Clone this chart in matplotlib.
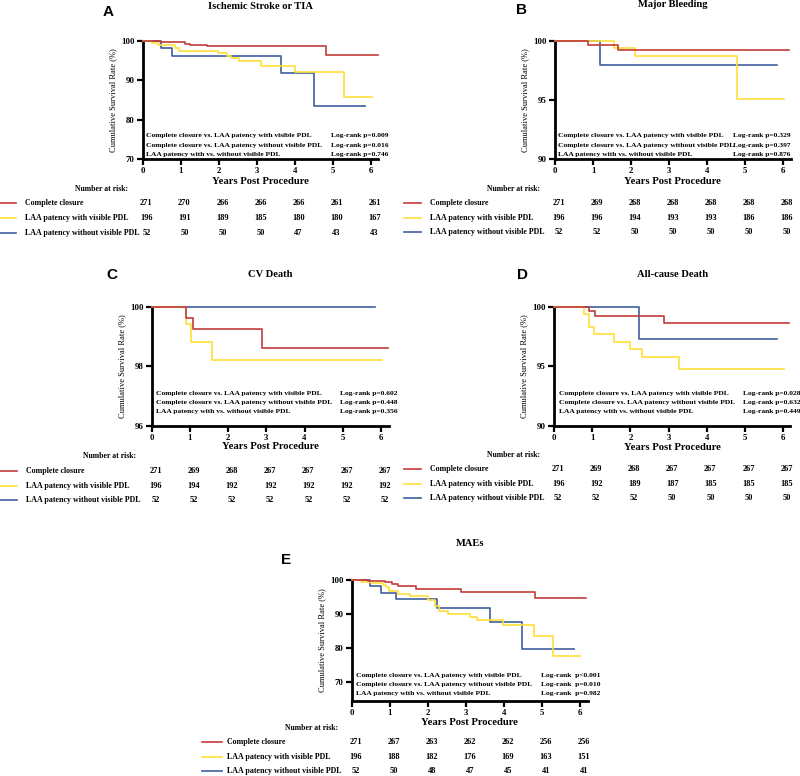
import matplotlib
matplotlib.use('Agg')
import matplotlib.pyplot as plt
from matplotlib.transforms import blended_transform_factory
from matplotlib.lines import Line2D

# ---------------- data ----------------
groups = ["Complete closure", "LAA patency with visible PDL", "LAA patency without visible PDL"]
years = [0, 1, 2, 3, 4, 5, 6]
comparisons = ["Complete closure vs. LAA patency with visible PDL",
               "Complete closure vs. LAA patency without visible PDL",
               "LAA patency with vs. without visible PDL"]
comparisons_D = ["Compplete closure vs. LAA patency with visible PDL",
                 "Complete closure vs. LAA patency without visible PDL",
                 "LAA patency with vs. without visible PDL"]

# Panel A: Ischemic Stroke or TIA
A_cc_t = [0, 0.45, 1.1, 1.25, 1.7, 4.83, 6.18]
A_cc_s = [100, 99.6, 99.2, 98.9, 98.6, 96.4, 96.4]
A_vis_t = [0, 0.25, 0.4, 0.84, 0.96, 1.98, 2.23, 2.32, 2.53, 3.12, 4.0, 5.29, 6.04]
A_vis_s = [100, 99.5, 99.0, 98.1, 97.4, 96.8, 96.1, 95.5, 94.8, 93.6, 92.1, 85.6, 85.6]
A_nov_t = [0, 0.47, 0.77, 3.63, 4.5, 5.84]
A_nov_s = [100, 98.1, 96.1, 91.8, 83.5, 83.5]
A_p = ["Log-rank p=0.009", "Log-rank p=0.016", "Log-rank p=0.746"]
A_risk_cc = [271, 270, 266, 266, 266, 261, 261]
A_risk_vis = [196, 191, 189, 185, 180, 180, 167]
A_risk_nov = [52, 50, 50, 50, 47, 43, 43]

# Panel B: Major Bleeding
B_cc_t = [0, 0.88, 1.67, 6.17]
B_cc_s = [100, 99.6, 99.2, 99.2]
B_vis_t = [0, 1.55, 2.1, 4.78, 6.03]
B_vis_s = [100, 99.35, 98.7, 95.05, 95.05]
B_nov_t = [0, 1.18, 5.83]
B_nov_s = [100, 97.95, 97.95]
B_p = ["Log-rank p=0.329", "Log-rank p=0.397", "Log-rank p=0.876"]
B_risk_cc = [271, 269, 268, 268, 268, 268, 268]
B_risk_vis = [196, 196, 194, 193, 193, 186, 186]
B_risk_nov = [52, 52, 50, 50, 50, 50, 50]

# Panel C: CV Death
C_cc_t = [0, 0.89, 1.07, 2.9, 6.18]
C_cc_s = [100, 99.62, 99.24, 98.62, 98.62]
C_vis_t = [0, 0.89, 1.04, 1.57, 6.04]
C_vis_s = [100, 99.41, 98.83, 98.22, 98.22]
C_nov_t = [0, 5.85]
C_nov_s = [100, 100]
C_p = ["Log-rank p=0.602", "Log-rank p=0.448", "Log-rank p=0.356"]
C_risk_cc = [271, 269, 268, 267, 267, 267, 267]
C_risk_vis = [196, 194, 192, 192, 192, 192, 192]
C_risk_nov = [52, 52, 52, 52, 52, 52, 52]

# Panel D: All-cause Death
D_cc_t = [0, 0.92, 1.07, 2.89, 6.17]
D_cc_s = [100, 99.6, 99.2, 98.6, 98.6]
D_vis_t = [0, 0.79, 0.92, 1.05, 1.58, 2.0, 2.3, 3.28, 6.03]
D_vis_s = [100, 99.4, 98.3, 97.7, 97.05, 96.45, 95.8, 94.8, 94.8]
D_nov_t = [0, 2.23, 5.84]
D_nov_s = [100, 97.3, 97.3]
D_p = ["Log-rank p=0.028", "Log-rank p=0.632", "Log-rank p=0.449"]
D_risk_cc = [271, 269, 268, 267, 267, 267, 267]
D_risk_vis = [196, 192, 189, 187, 185, 185, 185]
D_risk_nov = [52, 52, 52, 50, 50, 50, 50]

# Panel E: MAEs
E_cc_t = [0, 0.43, 0.87, 1.05, 1.22, 1.7, 2.88, 4.83, 6.17]
E_cc_s = [100, 99.7, 99.3, 98.9, 98.3, 97.4, 96.6, 94.7, 94.7]
E_vis_t = [0, 0.25, 0.5, 0.82, 0.9, 0.97, 1.22, 1.52, 2.0, 2.2, 2.3, 2.53, 3.1, 3.28, 3.98, 4.78, 5.28, 6.0]
E_vis_s = [100, 99.5, 99.0, 98.6, 97.8, 96.8, 96.0, 95.3, 94.1, 92.4, 91.0, 90.0, 89.2, 88.3, 86.8, 83.4, 77.5, 77.5]
E_nov_t = [0, 0.47, 0.76, 1.17, 2.25, 3.63, 4.48, 5.83]
E_nov_s = [100, 98.3, 96.2, 94.3, 91.7, 87.5, 79.6, 79.6]
E_p = ["Log-rank  p<0.001", "Log-rank  p=0.010", "Log-rank  p=0.982"]
E_risk_cc = [271, 267, 263, 262, 262, 256, 256]
E_risk_vis = [196, 188, 182, 176, 169, 163, 151]
E_risk_nov = [52, 50, 48, 47, 45, 41, 41]

# ---------------- style ----------------
W, H = 800, 776
SERIF = 'Liberation Serif'
SANS = 'Liberation Sans'
COLORS = ['#C23B3B', '#FFDF3A', '#3F5E9E']

fig = plt.figure(figsize=(W / 100, H / 100), dpi=100)


def fx(x):
    return x / W


def fy(y):
    return 1 - y / H


def panel(letter, title, curves, pvals, risks, comps, lay):
    left, top, bottom, year = lay['left'], lay['top'], lay['bottom'], lay['year']
    xmax = 6.2
    ax = fig.add_axes([fx(left), fy(bottom), xmax * year / W, (bottom - top) / H])
    ax.set_xlim(0, xmax)
    ax.set_ylim(*lay['ylim'])
    ax.set_yticks(lay['yticks'])
    ax.set_xticks(years)
    for s in ['top', 'right']:
        ax.spines[s].set_visible(False)
    for s in ['left', 'bottom']:
        ax.spines[s].set_linewidth(2.0)
        ax.spines[s].set_color('black')
    ax.tick_params(direction='out', length=4, width=1.6, pad=2, labelsize=6.3)
    ax.tick_params(axis='x', pad=lay.get('xpad', 2))
    for lbl in ax.get_xticklabels() + ax.get_yticklabels():
        lbl.set_fontfamily(SERIF)
        lbl.set_fontweight('bold')
    # draw blue, yellow, red (red on top)
    for idx in [2, 1, 0]:
        t, s = curves[idx]
        ax.step(t, s, where='post', color=COLORS[idx], lw=1.2, clip_on=False, zorder=3 + (2 - idx))

    cx = left + xmax * year / 2
    fig.text(fx(cx), fy(lay['title_y']), title, ha='center', va='center',
             family=SERIF, weight='bold', size=7.6)
    fig.text(fx(lay['letter'][0]), fy(lay['letter'][1]), letter, ha='center', va='center',
             family=SANS, weight='bold', size=11)
    fig.text(fx(left - 30), fy((top + bottom) / 2), 'Cumulative Survival Rate (%)',
             rotation=90, ha='center', va='center', family=SERIF, size=6.1)
    fig.text(fx(cx), fy(lay['xlabel_y']), 'Years Post Procedure', ha='center', va='center',
             family=SERIF, weight='bold', size=7.7)

    tr = blended_transform_factory(ax.transData, fig.transFigure)
    for i in range(3):
        ax.text(lay['ann_lx'], fy(lay['ann_ys'][i]), comps[i], transform=tr, ha='left',
                va='center', family=SERIF, weight='bold', size=5.4, clip_on=False)
        ax.text(lay['ann_rx'], fy(lay['ann_ys'][i]), pvals[i], transform=tr, ha='left',
                va='center', family=SERIF, weight='bold', size=5.4, clip_on=False)

    fig.text(fx(lay['nar'][0]), fy(lay['nar'][1]), 'Number at risk:', ha='left', va='center',
             family=SERIF, weight='bold', size=5.6)
    for i in range(3):
        ry = lay['rows'][i]
        fig.add_artist(Line2D([fx(lay['seg'][0]), fx(lay['seg'][1])], [fy(ry), fy(ry)],
                              transform=fig.transFigure, color=COLORS[i], lw=1.2))
        fig.text(fx(lay['label_x']), fy(ry), groups[i], ha='left', va='center',
                 family=SERIF, weight='bold', size=5.7)
        for k, n in zip(years, risks[i]):
            ax.text(k + 0.1, fy(ry), str(n), transform=tr, ha='center', va='center',
                    family=SERIF, weight='bold', size=6.0, clip_on=False)
    return ax


layA = dict(left=142.7, top=40.7, bottom=159, year=38, ylim=(70, 100), yticks=[70, 80, 90, 100],
            title_y=6.7, letter=(108, 12.5), xlabel_y=181.7, nar=(75, 188.7),
            rows=[203.3, 218.3, 232.7], seg=(0, 16), label_x=25,
            ann_ys=[135.7, 145.7, 154.3], ann_lx=0.1, ann_rx=4.96)
layB = dict(left=555, top=40.7, bottom=159, year=38, ylim=(90, 100), yticks=[90, 95, 100],
            title_y=4.5, letter=(521.7, 10.5), xlabel_y=181.7, nar=(487, 189),
            rows=[203.3, 217.7, 232.3], seg=(404, 421), label_x=430,
            ann_ys=[135.7, 145.7, 154.3], ann_lx=0.09, ann_rx=4.69)
layC = dict(left=151.7, top=306.7, bottom=426, year=38.2, ylim=(96, 100), yticks=[96, 98, 100],
            title_y=274.3, letter=(111.7, 275), xlabel_y=446.7, nar=(82.7, 456),
            rows=[470.7, 485.7, 500], seg=(0, 16.7), label_x=26,
            ann_ys=[393.3, 402.7, 412], ann_lx=0.1, ann_rx=4.93)
layD = dict(left=554.3, top=306.7, bottom=426, year=38.07, ylim=(90, 100), yticks=[90, 95, 100],
            title_y=274, letter=(522, 275), xlabel_y=447.7, nar=(487.3, 455),
            rows=[469.3, 484, 498.3], seg=(404, 421), label_x=430,
            ann_ys=[393.3, 402.7, 412], ann_lx=0.12, ann_rx=4.96)
layE = dict(left=351.7, top=580, bottom=701, year=38.05, ylim=(64.3, 100), yticks=[70, 80, 90, 100],
            title_y=543, letter=(286, 560), xlabel_y=722.5, xpad=1.5, nar=(285, 728.5),
            rows=[742.3, 757, 771.3], seg=(201.7, 221.7), label_x=227.3,
            ann_ys=[675, 684.3, 693.3], ann_lx=0.11, ann_rx=4.97)

panel('A', 'Ischemic Stroke or TIA',
      [(A_cc_t, A_cc_s), (A_vis_t, A_vis_s), (A_nov_t, A_nov_s)],
      A_p, [A_risk_cc, A_risk_vis, A_risk_nov], comparisons, layA)
panel('B', 'Major Bleeding',
      [(B_cc_t, B_cc_s), (B_vis_t, B_vis_s), (B_nov_t, B_nov_s)],
      B_p, [B_risk_cc, B_risk_vis, B_risk_nov], comparisons, layB)
panel('C', 'CV Death',
      [(C_cc_t, C_cc_s), (C_vis_t, C_vis_s), (C_nov_t, C_nov_s)],
      C_p, [C_risk_cc, C_risk_vis, C_risk_nov], comparisons, layC)
panel('D', 'All-cause Death',
      [(D_cc_t, D_cc_s), (D_vis_t, D_vis_s), (D_nov_t, D_nov_s)],
      D_p, [D_risk_cc, D_risk_vis, D_risk_nov], comparisons_D, layD)
panel('E', 'MAEs',
      [(E_cc_t, E_cc_s), (E_vis_t, E_vis_s), (E_nov_t, E_nov_s)],
      E_p, [E_risk_cc, E_risk_vis, E_risk_nov], comparisons, layE)

fig.savefig('out.png', dpi=100)
